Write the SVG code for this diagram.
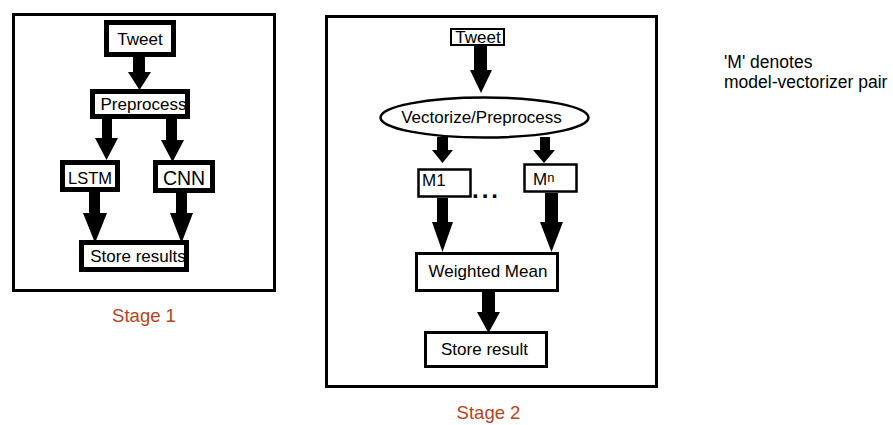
<svg xmlns="http://www.w3.org/2000/svg" width="893" height="425" viewBox="0 0 893 425">
<style>
  text { font-family: "Liberation Sans", Arial, sans-serif; fill: #000; }
  .lbl { font-size: 17px; text-anchor: middle; }
  .stage { font-size: 18.5px; fill: #B5441E; text-anchor: middle; }
  .frame { fill: #fff; stroke: #000; stroke-width: 3; }
  .box1 { fill: #fff; stroke: #000; stroke-width: 5; }
  .box2 { fill: #fff; stroke: #000; stroke-width: 2.5; }
  .arrow { fill: #000; stroke: none; }
</style>
<rect width="893" height="425" fill="#fff"/>

<g id="stage1-frame"><rect class="frame" x="13.5" y="14.5" width="261" height="276"/></g>
<g id="stage2-frame"><rect class="frame" x="326.5" y="16.5" width="330" height="370"/></g>

<g id="connectors">
  <polygon class="arrow" points="133,57 145,57 145,72 151,72 139.5,90 128,72 133,72"/>
  <polygon class="arrow" points="102,119 112,119 112,138 118,138 106.5,160 95,138 102,138"/>
  <polygon class="arrow" points="166,119 177,119 177,140 184,140 172.5,162 161,140 166,140"/>
  <polygon class="arrow" points="89,192 100,192 100,213 107,213 95,243 83,213 89,213"/>
  <polygon class="arrow" points="176,193 187,193 187,213 193,213 181.5,243 170,213 176,213"/>

  <polygon class="arrow" points="474,45 487,45 487,70 492,70 481,93 470,70 474,70"/>
  <polygon class="arrow" points="437,137 448,137 448,150 453,150 442.5,163 432,150 437,150"/>
  <polygon class="arrow" points="540,137 550,137 550,150 555,150 544,163 533,150 540,150"/>
  <polygon class="arrow" points="437,198 448,198 448,222 453,222 442.5,252 432,222 437,222"/>
  <polygon class="arrow" points="545,193 558,193 558,222 563,222 551.5,252 540,222 545,222"/>
  <polygon class="arrow" points="482,292 495,292 495,312 500,312 488.5,333 477,312 482,312"/>
</g>

<g id="s1-tweet"><rect class="box1" x="106.5" y="22.5" width="67" height="32"/><text class="lbl" x="140" y="45">Tweet</text></g>
<g id="s1-preprocess"><rect class="box1" x="92.5" y="91.5" width="95" height="25"/><text class="lbl" x="143.5" y="110">Preprocess</text></g>
<g id="s1-lstm"><rect class="box1" x="62.5" y="162.5" width="55" height="27"/><text class="lbl" x="90" y="184" style="font-size:16.5px">LSTM</text></g>
<g id="s1-cnn"><rect class="box1" x="155.5" y="162.5" width="57" height="28"/><text class="lbl" x="184" y="185" style="font-size:19.5px">CNN</text></g>
<g id="s1-store"><rect class="box1" x="81.5" y="242.5" width="105" height="27"/><text class="lbl" x="138" y="262">Store results</text></g>

<g id="s2-tweet"><rect class="box2" x="451" y="29" width="53" height="16" style="stroke-width:2"/><text class="lbl" x="478" y="43">Tweet</text></g>
<g id="s2-vectorize"><ellipse cx="484.5" cy="117.5" rx="104" ry="20" fill="#fff" stroke="#000" stroke-width="2.5"/><text class="lbl" x="481.5" y="123">Vectorize/Preprocess</text></g>
<g id="s2-m1"><rect class="box2" x="418.5" y="169.5" width="52" height="27"/><text x="422" y="186" style="font-size:17px">M1</text></g>
<g id="s2-dots"><text x="472" y="198" style="font-size:24px;font-weight:bold;letter-spacing:3px">...</text></g>
<g id="s2-mn"><rect class="box2" x="524.5" y="164.5" width="52" height="27"/><text x="533" y="185" style="font-size:17px">M<tspan style="font-size:13px" dy="-3">n</tspan></text></g>
<g id="s2-mean"><rect class="box2" x="416.5" y="253.5" width="141" height="37" style="stroke-width:3"/><text class="lbl" x="488" y="277">Weighted Mean</text></g>
<g id="s2-store"><rect class="box2" x="425.5" y="332.5" width="121" height="34" style="stroke-width:3"/><text class="lbl" x="484.5" y="355">Store result</text></g>

<text class="stage" x="144" y="322">Stage 1</text>
<text class="stage" x="488.5" y="419">Stage 2</text>

<g id="note">
  <text x="724" y="68" style="font-size:17.5px">'M' denotes</text>
  <text x="724" y="88" style="font-size:17.5px">model-vectorizer pair</text>
</g>
</svg>
